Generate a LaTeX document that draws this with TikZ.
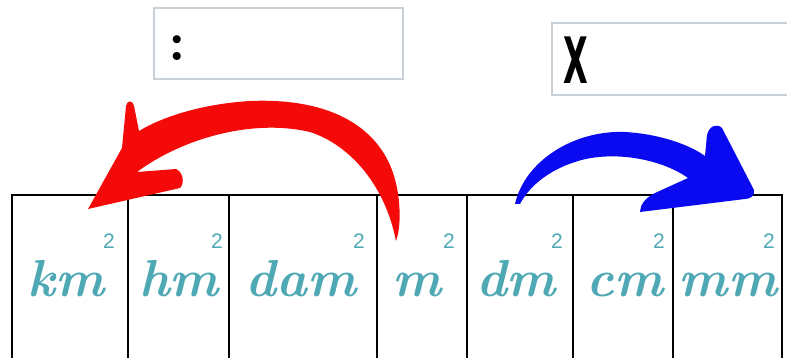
\documentclass[tikz,border=0pt]{standalone}
\usepackage{fontspec}
\newfontfamily\supfont{Liberation Sans}
\newfontfamily\xfont{DejaVu Sans}
\definecolor{unitteal}{HTML}{4FA9B5}
\definecolor{boxgray}{HTML}{C9D0D8}
\definecolor{arrowred}{HTML}{F50A0A}
\definecolor{arrowblue}{HTML}{0A0AF0}
\tikzset{
  unit/.style={anchor=base, inner sep=0pt, text height=34pt, text=unitteal, font=\fontsize{52}{52}\selectfont\bfseries\itshape},
  sq/.style={anchor=base, inner sep=0pt, text=unitteal, font=\supfont\fontsize{21}{21}\selectfont},
  grid/.style={line width=2.6pt, black},
  topbox/.style={line width=1.8pt, boxgray},
}
\begin{document}
\begin{tikzpicture}[x=1pt,y=-1pt]
\useasboundingbox (0,0) rectangle (787,358);
% top boxes
\draw[topbox] (154,8) rectangle (403,79);
\draw[topbox] (800,23) -- (552,23) -- (552,95) -- (800,95);
\node[anchor=base, inner sep=0pt, font=\fontsize{56}{56}\selectfont\bfseries] (colon) at (177,61) {:};
\node[anchor=base, inner sep=0pt, font=\xfont\bfseries\fontsize{64}{64}\selectfont] (xsign) at (576,84) {\scalebox{0.5}[1]{X}};
% table
\coordinate (c0) at (12,195);
\coordinate (c7) at (782,195);
\draw[grid] (12,360) -- (c0) -- (c7) -- (782,360);
\foreach \x in {128,229,377,467,573,673} \draw[grid] (\x,195) -- (\x,360);
% units
\node[unit] (km) at (66,296) {km};
\node[unit] (hm) at (179,296) {hm};
\node[unit] (dam) at (301,296) {dam};
\node[unit] (m) at (417,296) {m};
\node[unit] (dm) at (516,296) {dm};
\node[unit] (cm) at (625,296) {cm};
\node[unit] (mm) at (728,296) {mm};
\foreach \n/\x in {a/109,b/217,c/359,d/449,e/557,f/659,g/769}
  \node[sq] (sq\n) at (\x,248) {2};
% red arrow
\fill[arrowred] (88,209) -- (180,188) .. controls (185,183) and (183,172) .. (176,169) -- (137,172)
  .. controls (180,140) and (250,118) .. (310,132)
  .. controls (350,145) and (385,185) .. (396,241)
  .. controls (402,225) and (401,190) .. (390,165)
  .. controls (370,120) and (320,98) .. (250,101)
  .. controls (200,104) and (160,118) .. (139,131)
  -- (134,106) .. controls (133,100) and (127,100) .. (126,106)
  -- (122,148) -- cycle;
% blue arrow
\fill[arrowblue] (515,204)
  .. controls (525,160) and (575,130) .. (625,132)
  .. controls (660,134) and (690,145) .. (705,156)
  -- (707,135) .. controls (709,126) and (717,123) .. (722,128)
  -- (754,190) .. controls (755,196) and (750,199) .. (745,199)
  -- (640,212) .. controls (640,205) and (645,198) .. (655,193)
  -- (688,178)
  .. controls (660,158) and (610,150) .. (575,162)
  .. controls (550,170) and (530,185) .. (520,204) -- cycle;
\end{tikzpicture}
\end{document}
